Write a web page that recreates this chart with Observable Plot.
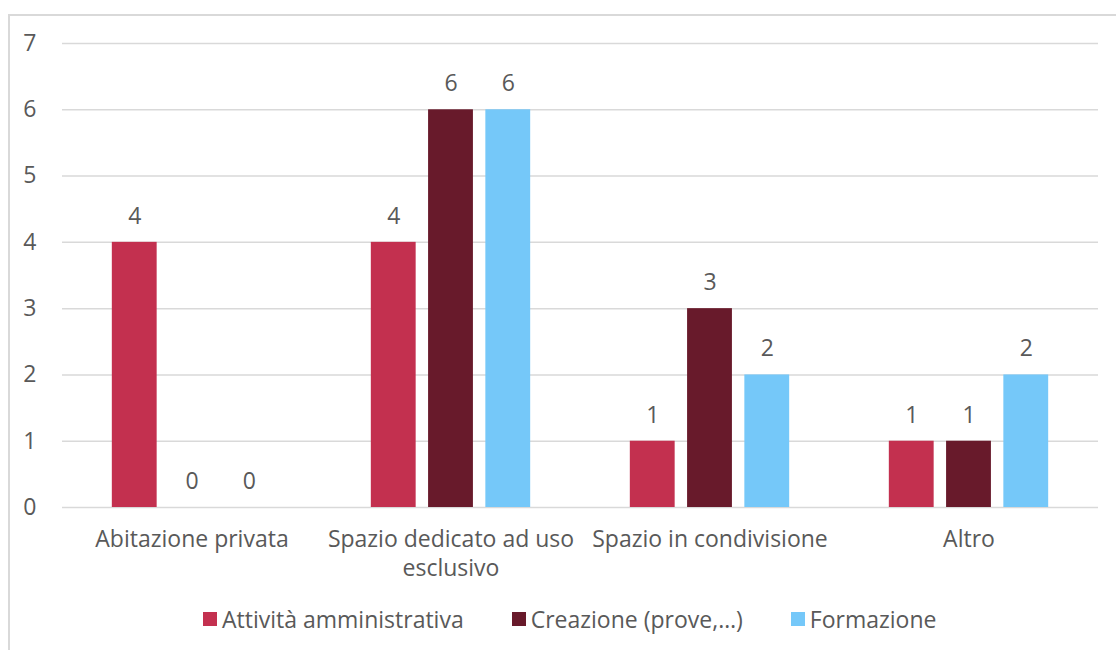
<!DOCTYPE html>
<html>
<head>
<meta charset="utf-8">
<script src="https://cdn.jsdelivr.net/npm/d3@7"></script>
<script src="https://cdn.jsdelivr.net/npm/@observablehq/plot@0.6"></script>
<style>
  html, body { margin: 0; padding: 0; background: #fff; width: 1116px; height: 650px; overflow: hidden; }
  #frame { position: absolute; left: 8px; top: 14px; width: 1200px; height: 700px; border-left: 2px solid #d9d9d9; border-top: 2px solid #d9d9d9; box-sizing: border-box; }
  #chart { position: absolute; left: 0; top: 0; }
  #legend { position: absolute; left: 203px; top: 603px; display: flex; align-items: center; font-family: "Open Sans", sans-serif; font-size: 23px; color: #595959; white-space: nowrap; }
  .item { display: flex; align-items: center; margin-right: 48px; }
  .sw { width: 14px; height: 14px; margin-right: 5px; display: inline-block; }
</style>
</head>
<body>
<div id="frame"></div>
<div id="chart"></div>
<div id="legend"></div>
<script>
const categories = ["Abitazione privata", "Spazio dedicato ad uso esclusivo", "Spazio in condivisione", "Altro"];
const series = ["Attività amministrativa", "Creazione (prove,…)", "Formazione"];
const attivita = [4, 4, 1, 1];
const creazione = [0, 6, 3, 1];
const formazione = [0, 6, 2, 2];
const colors = ["#C3304F", "#681A2B", "#75C8F9"];
const yTicks = [0, 1, 2, 3, 4, 5, 6, 7];

const values = [attivita, creazione, formazione];
const data = [];
categories.forEach((c, i) => series.forEach((s, j) => data.push({category: c, series: s, value: values[j][i]})));

const font = "'Open Sans', sans-serif";
const textColor = "#595959";
const fs = 23;

const chart = Plot.plot({
  width: 1116,
  height: 590,
  marginLeft: 60,
  marginRight: 17,
  marginTop: 43,
  marginBottom: 83,
  style: {fontFamily: font, fontSize: fs + "px", color: textColor, background: "transparent"},
  fx: {domain: categories, paddingInner: 0, paddingOuter: 0, label: null},
  x: {domain: series, paddingInner: 0.217, paddingOuter: 0.87, axis: null, round: false},
  y: {domain: [0, 7], label: null},
  color: {domain: series, range: colors},
  marks: [
    Plot.ruleY(yTicks, {stroke: "#d9d9d9", strokeWidth: 1.5}),
    Plot.axisY(yTicks, {tickSize: 0, tickPadding: 26, tickFormat: d => String(d), fontSize: fs, fill: textColor, label: null}),
    Plot.axisFx({anchor: "bottom", tickSize: 0, tickPadding: 19, fontSize: fs, fill: textColor, lineHeight: 1.26, label: null,
      tickFormat: d => d === "Spazio dedicato ad uso esclusivo" ? "Spazio dedicato ad uso\nesclusivo" : d}),
    Plot.barY(data, {fx: "category", x: "series", y: "value", fill: "series"}),
    Plot.text(data, {fx: "category", x: "series", y: "value", text: d => String(d.value), dy: -26, fill: textColor, fontSize: fs})
  ]
});
document.getElementById("chart").appendChild(chart);

const legend = document.getElementById("legend");
series.forEach((s, i) => {
  const item = document.createElement("span");
  item.className = "item";
  const sw = document.createElement("span");
  sw.className = "sw";
  sw.style.background = colors[i];
  item.appendChild(sw);
  item.appendChild(document.createTextNode(s));
  legend.appendChild(item);
});
</script>
</body>
</html>
